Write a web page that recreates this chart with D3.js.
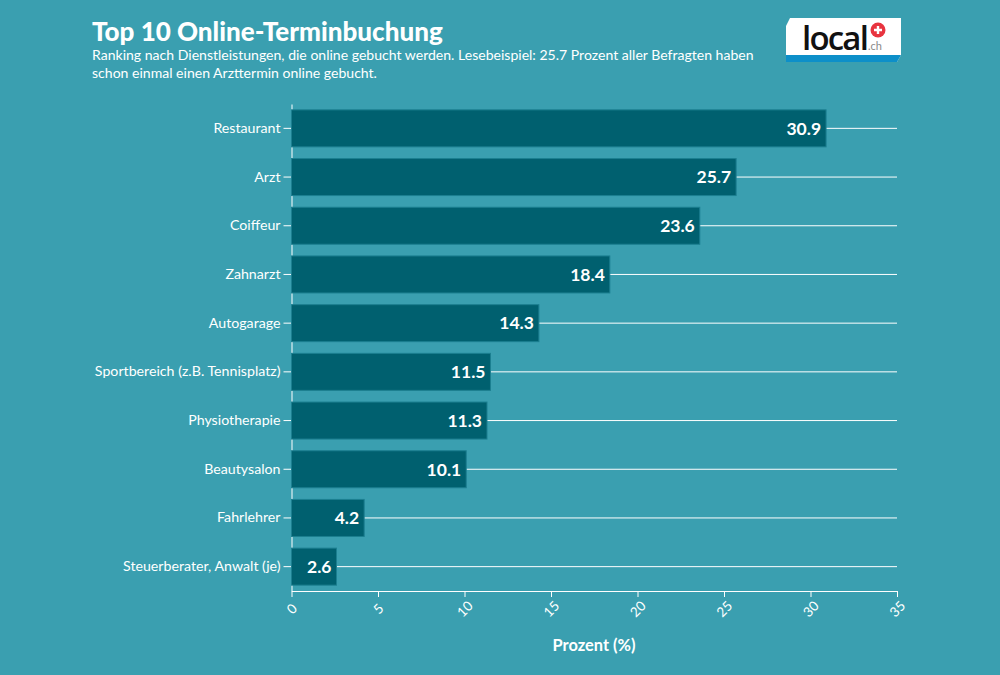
<!DOCTYPE html>
<html>
<head>
<meta charset="utf-8">
<script src="https://cdn.jsdelivr.net/npm/d3@7"></script>
<style>
  body { margin: 0; background: #3a9fb0; }
  svg { display: block; font-family: "Lato", sans-serif; }
  .tick text { fill: #fff; }
  .tick line, .domain { stroke: #fff; }
</style>
</head>
<body>
<script>
var categories = ["Restaurant", "Arzt", "Coiffeur", "Zahnarzt", "Autogarage",
  "Sportbereich (z.B. Tennisplatz)", "Physiotherapie", "Beautysalon", "Fahrlehrer",
  "Steuerberater, Anwalt (je)"];
var values = [30.9, 25.7, 23.6, 18.4, 14.3, 11.5, 11.3, 10.1, 4.2, 2.6];
var xTicks = [0, 5, 10, 15, 20, 25, 30, 35];

var margin = {top: 104, right: 103, bottom: 84, left: 291.5},
    width = 1000 - margin.left - margin.right,
    height = 675 - margin.top - margin.bottom;

var svg = d3.select("body").append("svg")
    .attr("width", 1000)
    .attr("height", 675);

svg.append("rect").attr("width", 1000).attr("height", 675).attr("fill", "#3a9fb0");

// title
svg.append("text").attr("x", 92).attr("y", 41)
    .attr("fill", "#fff").attr("font-size", 26).attr("font-weight", 900)
    .text("Top 10 Online-Terminbuchung");
svg.append("text").attr("x", 92).attr("y", 60)
    .attr("fill", "#fff").attr("font-size", 14.05)
    .text("Ranking nach Dienstleistungen, die online gebucht werden. Lesebeispiel: 25.7 Prozent aller Befragten haben");
svg.append("text").attr("x", 92).attr("y", 78)
    .attr("fill", "#fff").attr("font-size", 14.05)
    .text("schon einmal einen Arzttermin online gebucht.");

// logo
var logo = svg.append("g").attr("transform", "translate(786,18)");
logo.append("path").attr("d", "M4,0H115V37L111,44H0V8Z").attr("fill", "#fff");
logo.append("path").attr("d", "M0,37H115L111,44H0Z").attr("fill", "#0d8fc9");
logo.append("text").attr("x", 16).attr("y", 32)
    .attr("font-size", 33).attr("font-weight", 600).attr("fill", "#111")
    .attr("font-family", "Open Sans, sans-serif").attr("letter-spacing", -1.8)
    .text("local");
logo.append("text").attr("x", 82).attr("y", 32)
    .attr("font-size", 11).attr("fill", "#8a8a8a")
    .text(".ch");
logo.append("circle").attr("cx", 92).attr("cy", 12).attr("r", 7.5).attr("fill", "#e8343f");
logo.append("path").attr("d", "M88,12H96M92,8V16").attr("stroke", "#fff").attr("stroke-width", 2.4);

var g = svg.append("g")
    .attr("transform", "translate(" + margin.left + "," + margin.top + ")");

var x = d3.scaleLinear().domain([0, 35]).range([0, width]);
var y = d3.scaleBand().domain(categories).range([0, height]).paddingInner(0.24).paddingOuter(0.12);

// row lines run the whole width, bars sit on top
g.selectAll(".row-line")
    .data(categories)
    .enter().append("line")
    .attr("class", "row-line")
    .attr("x1", x(0))
    .attr("x2", x(35))
    .attr("y1", function(d) { return y(d) + y.bandwidth() / 2; })
    .attr("y2", function(d) { return y(d) + y.bandwidth() / 2; })
    .attr("stroke", "#fff")
    .attr("stroke-width", 1);

var yAxis = g.append("g")
    .call(d3.axisLeft(y).tickSize(8).tickPadding(3).tickSizeOuter(0));
yAxis.selectAll("text").attr("font-size", 14.2).attr("font-family", "Lato, sans-serif");

var xAxis = g.append("g")
    .attr("transform", "translate(0," + height + ")")
    .call(d3.axisBottom(x).tickValues(xTicks).tickSize(6).tickSizeOuter(0));
xAxis.selectAll("text")
    .attr("font-size", 13.5)
    .attr("font-family", "Lato, sans-serif")
    .attr("text-anchor", "middle")
    .attr("y", 0)
    .attr("dy", "0.35em")
    .attr("transform", "translate(0,18) rotate(-45)");

g.selectAll(".bar")
    .data(values)
    .enter().append("rect")
    .attr("class", "bar")
    .attr("x", x(0))
    .attr("y", function(d, i) { return y(categories[i]); })
    .attr("width", function(d) { return x(d); })
    .attr("height", y.bandwidth())
    .attr("fill", "#00606f")
    .attr("stroke", "#1c7f90")
    .attr("stroke-width", 1);

g.selectAll(".bar-label")
    .data(values)
    .enter().append("text")
    .attr("class", "bar-label")
    .attr("x", function(d) { return x(d) - 5; })
    .attr("y", function(d, i) { return y(categories[i]) + y.bandwidth() / 2; })
    .attr("dy", "0.36em")
    .attr("text-anchor", "end")
    .attr("fill", "#fff")
    .attr("font-size", 17.5)
    .attr("font-weight", 700)
    .text(function(d) { return d3.format(".1f")(d); });

svg.append("text").attr("x", 594).attr("y", 651)
    .attr("text-anchor", "middle")
    .attr("fill", "#fff").attr("font-size", 16.4).attr("font-weight", 700)
    .text("Prozent (%)");
</script>
</body>
</html>
